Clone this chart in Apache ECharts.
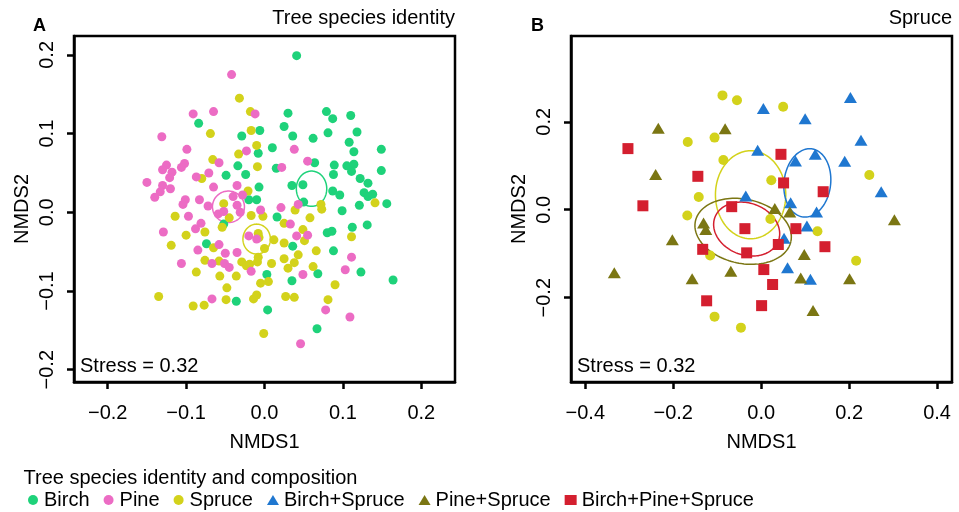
<!DOCTYPE html>
<html><head><meta charset="utf-8">
<script src="https://cdn.jsdelivr.net/npm/echarts@6/dist/echarts.min.js"></script>
<style>html,body{margin:0;padding:0;background:#fff}#c{width:959px;height:512px}</style>
</head><body><div id="c"></div>
<script>
// ---------- Data (NMDS1, NMDS2) ----------
const pineA = [[-0.042,0.175],[-0.091,0.125],[-0.065,0.128],[-0.012,0.125],[-0.131,0.096],[-0.099,0.080],[-0.023,0.078],[-0.102,0.062],[-0.106,0.057],[-0.125,0.060],[-0.130,0.054],[-0.118,0.051],[-0.121,0.044],[-0.058,0.063],[-0.087,0.045],[-0.071,0.050],[-0.150,0.038],[-0.130,0.034],[-0.133,0.026],[-0.140,0.019],[-0.120,0.030],[-0.065,0.032],[-0.035,0.034],[-0.028,0.022],[-0.040,0.020],[-0.101,0.016],[-0.104,0.010],[-0.083,0.016],[-0.072,0.008],[-0.035,0.009],[-0.031,0.000],[-0.005,0.003],[-0.059,-0.002],[-0.052,0.001],[-0.097,-0.005],[0.038,0.080],[0.055,0.065],[0.022,0.057],[0.021,0.006],[0.043,0.010],[-0.129,-0.025],[-0.081,-0.014],[-0.088,-0.021],[-0.020,-0.030],[-0.010,-0.034],[-0.058,-0.041],[-0.085,-0.048],[-0.050,-0.052],[-0.035,-0.051],[-0.106,-0.065],[-0.067,-0.065],[-0.051,-0.065],[-0.045,-0.070],[-0.017,-0.075],[-0.067,-0.110],[0.033,-0.015],[0.041,-0.030],[0.055,-0.029],[0.049,-0.079],[0.111,-0.057],[0.103,-0.073],[0.078,-0.124],[0.109,-0.133],[0.046,-0.167]];
const birchA = [[-0.084,0.113],[-0.006,0.104],[-0.029,0.097],[-0.008,0.075],[-0.034,0.059],[-0.049,0.047],[-0.024,0.048],[-0.007,0.032],[-0.020,0.016],[-0.010,0.016],[0.041,0.199],[0.030,0.126],[0.079,0.128],[0.087,0.119],[0.110,0.123],[0.025,0.109],[0.036,0.097],[0.062,0.094],[0.081,0.101],[0.118,0.102],[0.108,0.089],[0.010,0.082],[0.114,0.077],[0.149,0.080],[0.015,0.056],[0.064,0.063],[0.089,0.060],[0.105,0.059],[0.114,0.061],[0.111,0.052],[0.088,0.048],[0.149,0.053],[0.122,0.043],[0.132,0.037],[0.035,0.034],[0.049,0.035],[0.087,0.027],[0.096,0.022],[0.127,0.025],[0.132,0.020],[0.138,0.023],[0.050,0.013],[0.121,0.009],[0.156,0.011],[0.099,0.002],[0.016,-0.006],[-0.052,-0.015],[-0.074,-0.040],[-0.036,-0.113],[0.003,-0.079],[0.004,-0.124],[0.080,-0.026],[0.086,-0.024],[0.112,-0.019],[0.131,-0.016],[0.036,-0.043],[0.088,-0.049],[0.068,-0.078],[0.123,-0.076],[0.035,-0.087],[0.164,-0.086],[0.067,-0.148]];
const spruceA = [[-0.032,0.145],[-0.018,0.128],[-0.017,0.104],[-0.069,0.100],[-0.010,0.085],[-0.033,0.074],[-0.009,0.058],[-0.066,0.067],[-0.080,0.043],[-0.021,0.027],[-0.052,0.011],[-0.017,-0.004],[-0.002,-0.005],[-0.114,-0.005],[-0.045,-0.007],[0.141,0.012],[0.072,0.010],[0.073,0.004],[0.039,0.003],[0.058,-0.007],[-0.100,-0.029],[-0.076,-0.025],[-0.054,-0.019],[-0.119,-0.042],[-0.065,-0.045],[-0.008,-0.027],[-0.007,-0.032],[0.000,-0.046],[-0.076,-0.061],[-0.058,-0.062],[-0.029,-0.063],[-0.023,-0.068],[-0.019,-0.066],[-0.008,-0.057],[-0.009,-0.063],[-0.087,-0.076],[-0.057,-0.081],[-0.036,-0.081],[-0.005,-0.090],[-0.048,-0.096],[-0.135,-0.107],[-0.049,-0.111],[-0.010,-0.105],[-0.014,-0.110],[-0.091,-0.119],[-0.077,-0.118],[-0.001,-0.154],[0.025,-0.014],[0.049,-0.022],[0.051,-0.036],[0.012,-0.035],[0.025,-0.039],[0.111,-0.031],[0.043,-0.054],[0.066,-0.049],[0.025,-0.059],[0.038,-0.064],[0.009,-0.065],[0.062,-0.069],[0.030,-0.071],[0.005,-0.088],[0.090,-0.092],[0.027,-0.107],[0.038,-0.108],[0.081,-0.111]];

const spruceB = [[-0.088,0.260],[-0.055,0.249],[-0.167,0.154],[-0.106,0.164],[-0.086,0.113],[-0.142,0.029],[-0.168,-0.013],[-0.116,-0.104],[-0.106,-0.243],[-0.046,-0.268],[0.050,0.234],[0.023,0.067],[0.246,0.079],[0.021,-0.021],[0.128,-0.049],[0.216,-0.116]];
const birchSpruceB = [[-0.035,0.031],[0.203,0.255],[0.005,0.230],[0.100,0.207],[0.227,0.158],[-0.008,0.135],[0.123,0.126],[0.078,0.111],[0.190,0.110],[0.273,0.041],[0.067,0.016],[0.126,-0.005],[0.104,-0.037],[0.052,-0.065],[0.060,-0.132],[0.112,-0.158]];
const pineSpruceB = [[-0.234,0.185],[-0.082,0.184],[-0.240,0.080],[-0.131,-0.030],[-0.126,-0.045],[-0.202,-0.068],[-0.334,-0.143],[-0.157,-0.157],[-0.069,-0.140],[0.303,-0.023],[0.031,0.003],[0.065,-0.005],[0.098,-0.102],[0.090,-0.155],[0.201,-0.157],[0.118,-0.229]];
const birchPineSpruceB = [[-0.303,0.139],[-0.144,0.076],[-0.269,0.009],[-0.067,0.007],[-0.037,-0.043],[-0.133,-0.090],[-0.033,-0.098],[-0.124,-0.207],[0.045,0.126],[0.051,0.061],[0.141,0.041],[0.079,-0.043],[0.039,-0.079],[0.145,-0.084],[0.006,-0.136],[0.026,-0.170],[0.001,-0.218]];

// ellipses: [centerX, centerY, semiAxisX, semiAxisY, rotationDeg]
const ellBirchA = [0.060, 0.030, 0.0194, 0.0224, 0];
const ellPineA = [-0.046, 0.007, 0.0204, 0.0200, 0];
const ellSpruceA = [-0.010, -0.034, 0.0175, 0.0190, 0];
const ellSpruceB = [-0.024, 0.034, 0.080, 0.100, 0];
const ellBirchSpruceB = [0.105, 0.061, 0.053, 0.078, -7];
const ellPineSpruceB = [-0.041, -0.049, 0.111, 0.073, -12];
const ellBirchPineSpruceB = [-0.033, -0.044, 0.077, 0.059, -20];

const ticksAx = [-0.2, -0.1, 0.0, 0.1, 0.2];
const ticksAy = [-0.2, -0.1, 0.0, 0.1, 0.2];
const ticksBx = [-0.4, -0.2, 0.0, 0.2, 0.4];
const ticksBy = [-0.2, 0.0, 0.2];

const legendNames = ['Birch', 'Pine', 'Spruce', 'Birch+Spruce', 'Pine+Spruce', 'Birch+Pine+Spruce'];

// ---------- Styling ----------
const FONT = "'Liberation Sans', Arial, Helvetica, sans-serif";
const C = {
  'Birch': '#1ED27A', 'Pine': '#EC6CC4', 'Spruce': '#D3D21B',
  'Birch+Spruce': '#1F77D0', 'Pine+Spruce': '#7B7613', 'Birch+Pine+Spruce': '#D41F2F'
};
const fmt = v => (v < 0 ? '\u2212' : '') + Math.abs(v).toFixed(1);
const txt = {color: '#000', fontSize: 20, fontFamily: FONT};
const tickStyle = {show: true, inside: false, length: 7, lineStyle: {color: '#000', width: 2.5}};

function xAxisCfg(gi, min, max, ticks) {
  return {
    type: 'value', gridIndex: gi, min: min, max: max, position: 'bottom',
    axisLine: {show: true, onZero: false, lineStyle: {color: '#000', width: 2.5}}, splitLine: {show: false},
    axisTick: Object.assign({customValues: ticks}, tickStyle),
    axisLabel: Object.assign({customValues: ticks, margin: 21, formatter: fmt}, txt),
    name: 'NMDS1', nameLocation: 'middle', nameGap: 50, nameTextStyle: txt
  };
}
function yAxisCfg(gi, min, max, ticks) {
  return {
    type: 'value', gridIndex: gi, min: min, max: max, position: 'left',
    axisLine: {show: true, onZero: false, lineStyle: {color: '#000', width: 2.5}}, splitLine: {show: false},
    axisTick: Object.assign({customValues: ticks}, tickStyle),
    axisLabel: Object.assign({customValues: ticks, margin: 17, rotate: 90, formatter: fmt}, txt),
    name: 'NMDS2', nameLocation: 'middle', nameGap: 42, nameTextStyle: txt
  };
}
function scatter(name, gi, data, symbol, size) {
  return {
    type: 'scatter', name: name, xAxisIndex: gi, yAxisIndex: gi, data: data,
    symbol: symbol, symbolSize: size, itemStyle: {color: C[name], opacity: 1},
    emphasis: {disabled: true}, z: 3, silent: true
  };
}
function ellipse(name, gi, params) {
  return {
    type: 'custom', name: name + ' ellipse', xAxisIndex: gi, yAxisIndex: gi,
    data: [params], z: 2, silent: true,
    renderItem: function (p, api) {
      const c = api.coord([api.value(0), api.value(1)]);
      const s = api.size([api.value(2), api.value(3)]);
      const th = api.value(4) * Math.PI / 180;
      const pts = [];
      for (let i = 0; i <= 120; i++) {
        const t = i / 120 * 2 * Math.PI;
        const xx = s[0] * Math.cos(t), yy = s[1] * Math.sin(t);
        const X = xx * Math.cos(th) - yy * Math.sin(th);
        const Y = xx * Math.sin(th) + yy * Math.cos(th);
        pts.push([c[0] + X, c[1] - Y]);
      }
      return {type: 'polyline', shape: {points: pts}, style: {stroke: C[name], fill: 'none', lineWidth: 1.5}};
    }
  };
}

const chart = echarts.init(document.getElementById('c'), null, {renderer: 'canvas'});
chart.setOption({
  animation: false,
  backgroundColor: '#fff',
  grid: [
    {left: 74, top: 36, width: 381, height: 346, show: true, borderColor: '#000', borderWidth: 2.5, backgroundColor: 'transparent'},
    {left: 571, top: 36, width: 381, height: 346, show: true, borderColor: '#000', borderWidth: 2.5, backgroundColor: 'transparent'}
  ],
  xAxis: [xAxisCfg(0, -0.243, 0.243, ticksAx), xAxisCfg(1, -0.4325, 0.434, ticksBx)],
  yAxis: [yAxisCfg(0, -0.2156, 0.224, ticksAy), yAxisCfg(1, -0.3916, 0.395, ticksBy)],
  legend: {
    data: legendNames, left: 23, top: 485, itemWidth: 12, itemHeight: 10, itemGap: 14,
    selectedMode: false, textStyle: txt
  },
  graphic: [
    {type: 'text', x: 33, y: 17, style: {text: 'A', font: 'bold 18px ' + FONT, fill: '#000'}},
    {type: 'text', x: 531, y: 17, style: {text: 'B', font: 'bold 18px ' + FONT, fill: '#000'}},
    {type: 'text', x: 455, y: 8, style: {text: 'Tree species identity', align: 'right', font: '20px ' + FONT, fill: '#000'}},
    {type: 'text', x: 952, y: 8, style: {text: 'Spruce', align: 'right', font: '20px ' + FONT, fill: '#000'}},
    {type: 'text', x: 80, y: 356, style: {text: 'Stress = 0.32', font: '20px ' + FONT, fill: '#000'}, z: 10},
    {type: 'text', x: 577, y: 356, style: {text: 'Stress = 0.32', font: '20px ' + FONT, fill: '#000'}, z: 10},
    {type: 'text', x: 23.5, y: 468, style: {text: 'Tree species identity and composition', font: '20px ' + FONT, fill: '#000'}}
  ],
  series: [
    ellipse('Birch', 0, ellBirchA),
    ellipse('Pine', 0, ellPineA),
    ellipse('Spruce', 0, ellSpruceA),
    scatter('Birch', 0, birchA, 'circle', 9),
    scatter('Spruce', 0, spruceA, 'circle', 9),
    scatter('Pine', 0, pineA, 'circle', 9),
    ellipse('Spruce', 1, ellSpruceB),
    ellipse('Birch+Spruce', 1, ellBirchSpruceB),
    ellipse('Pine+Spruce', 1, ellPineSpruceB),
    ellipse('Birch+Pine+Spruce', 1, ellBirchPineSpruceB),
    scatter('Spruce', 1, spruceB, 'circle', 10),
    scatter('Birch+Spruce', 1, birchSpruceB, 'triangle', [13, 11]),
    scatter('Pine+Spruce', 1, pineSpruceB, 'triangle', [13, 11]),
    scatter('Birch+Pine+Spruce', 1, birchPineSpruceB, 'rect', 11)
  ]
});
</script></body></html>
